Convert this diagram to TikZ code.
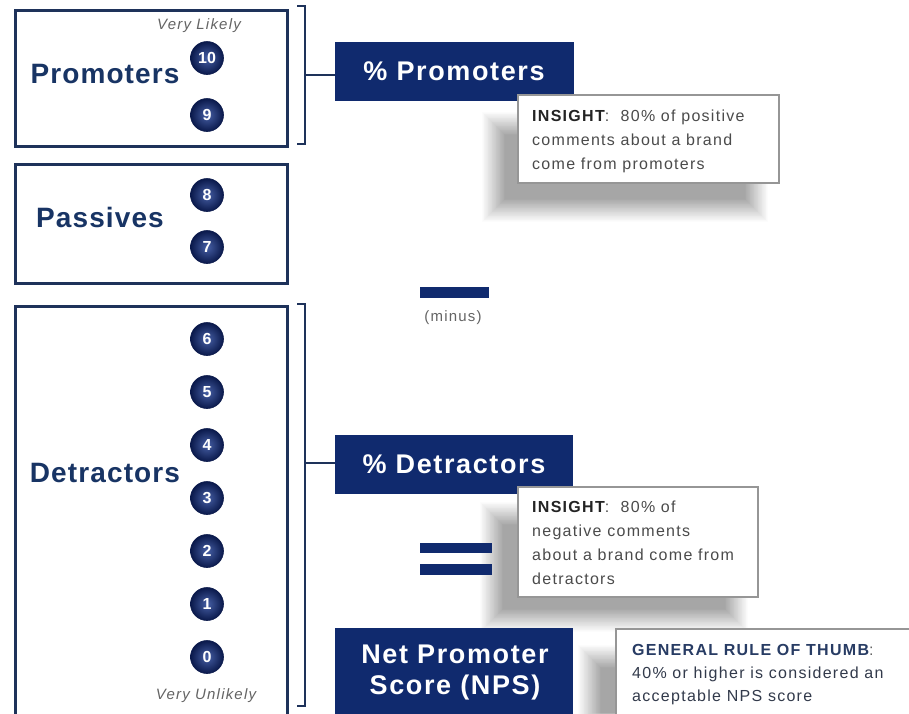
\documentclass[tikz,border=0pt]{standalone}
\usepackage{fontspec}
\setmainfont{Liberation Sans}
\newfontfamily\labelfont{Liberation Sans}[LetterSpace=4]
\newfontfamily\navyfont{Liberation Sans}[LetterSpace=6]
\newfontfamily\smallfont{Liberation Sans}[LetterSpace=8]
\usetikzlibrary{calc}
\definecolor{navy}{RGB}{16,42,110}
\definecolor{boxnavy}{RGB}{30,50,90}
\definecolor{labnavy}{RGB}{24,52,100}
\definecolor{ballmid}{RGB}{70,95,165}
\definecolor{balldark}{RGB}{10,25,75}
\definecolor{infogray}{RGB}{150,150,150}
\definecolor{infotextc}{RGB}{75,75,75}
\definecolor{insightc}{RGB}{35,35,35}
\definecolor{hintgray}{RGB}{100,100,100}
\definecolor{rulenavy}{RGB}{40,60,100}
\definecolor{ruletext}{RGB}{50,58,75}
\newcommand\softshadow[4]{%
  \foreach \k in {0,...,29}{%
    \fill[black,opacity=0.012] ({#1+\k*0.8},{#2+\k*0.8}) rectangle ({#3-\k*0.8},{#4-\k*0.8});}}
\begin{document}
\begin{tikzpicture}[x=1pt,y=-1pt,
  gbox/.style={draw=boxnavy, line width=3pt, fill=white, inner sep=0pt, anchor=north west},
  glabel/.style={text=labnavy, font=\labelfont\fontsize{28}{30}\selectfont\bfseries, anchor=base, inner sep=0pt},
  numc/.style={circle, minimum size=33pt, inner sep=0pt, shade, inner color=ballmid, outer color=balldark, draw=balldark, line width=0.6pt, text=white, font=\fontsize{16}{16}\selectfont\bfseries},
  navybox/.style={fill=navy, inner sep=0pt, anchor=north west},
  navytext/.style={text=white, font=\navyfont\fontsize{27}{31}\selectfont\bfseries, inner sep=0pt, align=center},
  infobox/.style={draw=infogray, line width=1.5pt, fill=white, inner sep=0pt, anchor=north west},
  infotext/.style={text=infotextc, font=\smallfont\fontsize{16}{24}\selectfont, align=left, anchor=north west, inner sep=0pt},
  hint/.style={text=hintgray, font=\smallfont\fontsize{15}{15}\selectfont\itshape, inner sep=0pt},
  brk/.style={draw=boxnavy, line width=2.5pt},
  bar/.style={fill=navy, inner sep=0pt, anchor=north west}]
\useasboundingbox (0,0) rectangle (909,713);
\clip (0,0) rectangle (909,713);
\fill[white] (0,0) rectangle (909,713);

% shadows
\softshadow{482}{112}{768}{222}
\softshadow{480}{502}{748}{632}
\softshadow{578}{645}{930}{740}

% group boxes
\node[gbox, minimum width=272pt, minimum height=136pt] (promobox) at (14,9) {};
\node[gbox, minimum width=272pt, minimum height=119pt] (passbox) at (14,163) {};
\node[gbox, minimum width=272pt, minimum height=420pt] (detrbox) at (14,305) {};

\node[glabel] (plabel) at (105,83) {Promoters};
\node[glabel] (palabel) at (100,227) {Passives};
\node[glabel] (dlabel) at (105,482) {Detractors};

\node[hint] (vlikely) at (199,26) {Very Likely};
\node[hint] (vunlikely) at (206,696) {Very Unlikely};

% score circles
\node[numc] (c10) at (207,58) {10};
\node[numc] (c9) at (207,115) {9};
\node[numc] (c8) at (207,195) {8};
\node[numc] (c7) at (207,247) {7};
\node[numc] (c6) at (207,339) {6};
\node[numc] (c5) at (207,392) {5};
\node[numc] (c4) at (207,445) {4};
\node[numc] (c3) at (207,498) {3};
\node[numc] (c2) at (207,551) {2};
\node[numc] (c1) at (207,604) {1};
\node[numc] (c0) at (207,657) {0};

% result boxes
\node[navybox, minimum width=239pt, minimum height=59pt] (pprom) at (335,42) {};
\node[navytext, anchor=base] (pptext) at (454,80) {\% Promoters};
\node[navybox, minimum width=238pt, minimum height=59pt] (pdetr) at (335,435) {};
\node[navytext, anchor=base] (pdtext) at (454,473) {\% Detractors};
\node[navybox, minimum width=238pt, minimum height=100pt] (npsbox) at (335,628) {};
\node[navytext, anchor=base] (npstext1) at (455,663) {Net Promoter};
\node[navytext, anchor=base] (npstext2) at (455,694) {Score (NPS)};

% brackets
\draw[brk] (297,6) -- (305,6) -- (305,144) -- (297,144);
\coordinate (bpmid) at (305,75);
\draw[brk] (bpmid) -- (bpmid -| pprom.west);
\draw[brk] (297,304) -- (305,304) -- (305,706) -- (297,706);
\coordinate (bdmid) at (305,463);
\draw[brk] (bdmid) -- (bdmid -| pdetr.west);

% minus and equals
\node[bar, minimum width=69pt, minimum height=11pt] (minusbar) at (420,287) {};
\node[text=hintgray, font=\smallfont\fontsize{15}{15}\selectfont, inner sep=0pt] (minuslabel) at (453,318) {(minus)};
\node[bar, minimum width=72pt, minimum height=10pt] (eqtop) at (420,543) {};
\node[bar, minimum width=72pt, minimum height=11pt] (eqbot) at (420,564) {};

% insight boxes
\node[infobox, minimum width=261pt, minimum height=88pt] (ins1) at (517,94) {};
\node[infotext] (ins1text) at (532,110) {{\color{insightc}\bfseries INSIGHT}:\ \ 80\% of positive\\comments about a brand\\come from promoters};
\node[infobox, minimum width=240pt, minimum height=110pt] (ins2) at (517,486) {};
\node[infotext] (ins2text) at (532,501) {{\color{insightc}\bfseries INSIGHT}:\ \ 80\% of\\negative comments\\about a brand come from\\detractors};

% rule of thumb box
\node[infobox, minimum width=320pt, minimum height=100pt] (rulebox) at (615,628) {};
\node[infotext, text=ruletext, font=\smallfont\fontsize{16}{23}\selectfont] (ruletext) at (632,644) {{\color{rulenavy}\bfseries GENERAL RULE OF THUMB}{\color{hintgray}:}\\40\% or higher is considered an\\acceptable NPS score};
\end{tikzpicture}
\end{document}
